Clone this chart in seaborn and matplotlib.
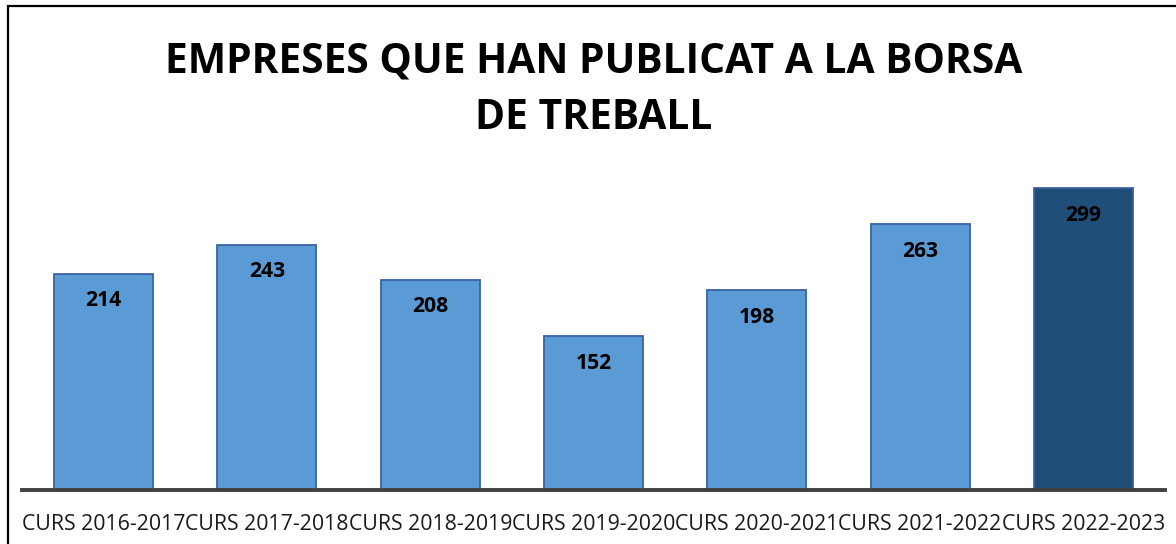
import matplotlib
matplotlib.use("Agg")
import matplotlib.pyplot as plt
import seaborn as sns
import pandas as pd
from matplotlib.patches import Rectangle

categories = ["CURS 2016-2017", "CURS 2017-2018", "CURS 2018-2019", "CURS 2019-2020",
              "CURS 2020-2021", "CURS 2021-2022", "CURS 2022-2023"]
values = [214, 243, 208, 152, 198, 263, 299]
bar_colors = ["#5B9BD5"] * 6 + ["#1F4E79"]
title = "EMPRESES QUE HAN PUBLICAT A LA BORSA\nDE TREBALL"

sns.set_theme(style="white")
plt.rcParams['font.family'] = ['Open Sans', 'DejaVu Sans']

df = pd.DataFrame({"cat": categories, "val": values})

W, H = 1176, 544
fig = plt.figure(figsize=(W / 100, H / 100), dpi=100)
ax = fig.add_axes([22 / W, 1 - 490 / H, (1165 - 22) / W, (490 - 170) / H])

sns.barplot(data=df, x="cat", y="val", hue="cat", palette=bar_colors, legend=False,
            width=0.606, edgecolor="#3A62A0", linewidth=1.3, ax=ax, saturation=1)

ax.set_xlim(-0.5, 6.5)
ax.set_ylim(0, 320 / 1.01)
ax.set_xlabel("")
ax.set_ylabel("")
ax.set_yticks([])
for s in ["top", "right", "left"]:
    ax.spines[s].set_visible(False)
ax.spines["bottom"].set_color("#404040")
ax.spines["bottom"].set_linewidth(2.8)
ax.tick_params(axis="x", length=0, pad=17, labelsize=15.3, labelcolor="#1a1a1a")

for i, v in enumerate(values):
    ax.text(i, v - 27 / 1.01, str(v), ha="center", va="center",
            fontsize=15.2, fontweight="bold", color="black")

fig.text(594 / W, 1 - 90 / H, title, ha="center", va="center", fontsize=29.3,
         fontweight="bold", color="black", linespacing=1.5)

fig.patches.append(Rectangle((8 / W, -0.1), 1.2, 1 - 6 / H + 0.1, transform=fig.transFigure,
                             fill=False, edgecolor="black", linewidth=1.6))

fig.savefig("out.png", dpi=100)
